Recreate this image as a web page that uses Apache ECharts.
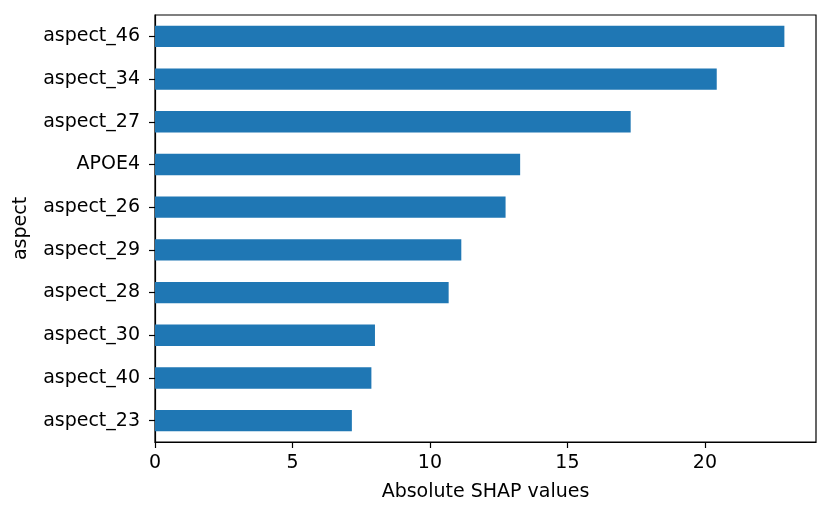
<!DOCTYPE html>
<html>
<head>
<meta charset="utf-8">
<script src="https://cdn.jsdelivr.net/npm/echarts@6/dist/echarts.min.js"></script>
<style>html,body{margin:0;padding:0;background:#fff}#c{width:830px;height:517px}</style>
</head>
<body>
<div id="c"></div>
<script>
var categories = ["aspect_46","aspect_34","aspect_27","APOE4","aspect_26","aspect_29","aspect_28","aspect_30","aspect_40","aspect_23"];
var values = [22.89, 20.43, 17.30, 13.28, 12.75, 11.14, 10.68, 8.00, 7.87, 7.16];
var xTicks = [0, 5, 10, 15, 20];
var xMax = 24.04;

var font = "DejaVu Sans";
var fs = 19;
var chart = echarts.init(document.getElementById('c'), null, {renderer: 'canvas'});
chart.setOption({
  animation: false,
  backgroundColor: '#ffffff',
  grid: {left: 155, right: 14, top: 15, bottom: 75, show: true, borderColor: '#000', borderWidth: 1.2, backgroundColor: 'transparent'},
  xAxis: {
    type: 'value', min: 0, max: xMax, interval: 5,
    name: 'Absolute SHAP values', nameLocation: 'middle', nameGap: 41,
    nameTextStyle: {fontFamily: font, fontSize: fs, color: '#000'},
    axisLine: {show: true, lineStyle: {color: '#000', width: 1.2}},
    axisTick: {show: true, length: 6, lineStyle: {color: '#000', width: 1.2},
      customValues: xTicks},
    axisLabel: {fontFamily: font, fontSize: fs, color: '#000', margin: 12,
      customValues: xTicks,
      formatter: function (v) { return xTicks.indexOf(v) >= 0 ? String(v) : ''; }},
    splitLine: {show: false}
  },
  yAxis: {
    type: 'category', data: categories, inverse: true,
    name: 'aspect', nameLocation: 'middle', nameGap: 124, nameRotate: 90,
    nameTextStyle: {fontFamily: font, fontSize: fs, color: '#000'},
    axisLine: {show: true, lineStyle: {color: '#000', width: 1.2}},
    axisTick: {show: true, length: 6, alignWithLabel: true, lineStyle: {color: '#000', width: 1.2}},
    axisLabel: {fontFamily: font, fontSize: fs, color: '#000', margin: 15},
    splitLine: {show: false}
  },
  series: [{
    type: 'bar', data: values, barCategoryGap: '50%',
    itemStyle: {color: '#1f77b4'}
  }]
});
</script>
</body>
</html>
